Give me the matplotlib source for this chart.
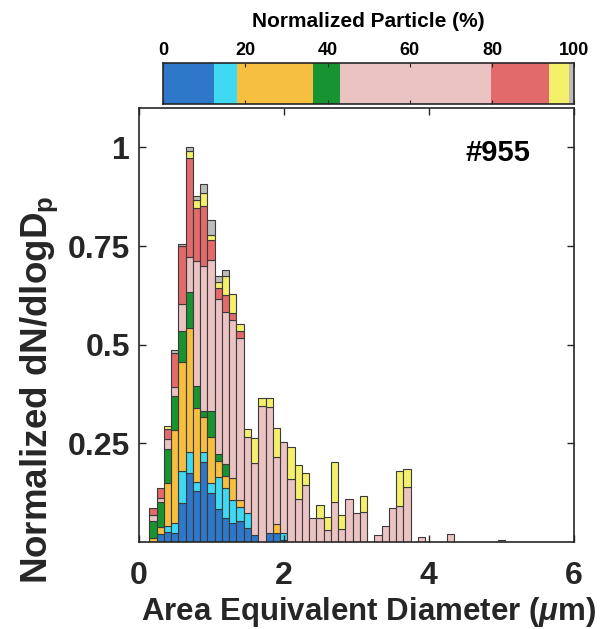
import numpy as np
import matplotlib
matplotlib.use('Agg')
import matplotlib.pyplot as plt

plt.rcParams['font.family'] = ['Liberation Sans', 'DejaVu Sans']
plt.rcParams['font.weight'] = 'bold'
plt.rcParams['axes.labelweight'] = 'bold'
plt.rcParams['mathtext.fontset'] = 'custom'
plt.rcParams['mathtext.rm'] = 'Liberation Sans:bold'
plt.rcParams['mathtext.it'] = 'Liberation Sans:italic:bold'
plt.rcParams['mathtext.bf'] = 'Liberation Sans:bold'

# bin centres (um), bins are 0.1 um wide
diameter = [0.2, 0.3, 0.4, 0.5, 0.6, 0.7, 0.8, 0.9, 1.0, 1.1, 1.2, 1.3, 1.4,
            1.5, 1.6, 1.7, 1.8, 1.9, 2.0, 2.1, 2.2, 2.3, 2.4, 2.5, 2.6, 2.7,
            2.8, 2.9, 3.0, 3.1, 3.2, 3.3, 3.4, 3.5, 3.6, 3.7, 3.9, 4.3, 5.0]

# normalized dN/dlogDp contributed by each particle class (stacked bottom->top)
blue = [0, .020, .026, .022, .098, .176, .130, .204, .125, .083, .060, .049, .052,
        .035, .018, 0, .022, .022, .005, 0, 0, 0, 0, 0, 0, 0,
        0, 0, 0, 0, 0, 0, 0, 0, 0, 0, 0, 0, 0]
cyan = [0, 0, .015, .025, .083, .053, .021, .023, .024, .083, .076, .058, .036,
        .039, 0, 0, 0, 0, .017, 0, 0, 0, 0, 0, 0, 0,
        0, 0, 0, 0, 0, 0, 0, 0, 0, 0, 0, 0, 0]
orange = [.010, .018, .108, .237, .275, .313, .188, .091, .116, .040, .032, .056, .019,
          0, 0, 0, 0, .024, 0, 0, 0, 0, 0, 0, 0, 0,
          0, 0, 0, 0, 0, 0, 0, 0, 0, 0, 0, 0, 0]
green = [.042, .064, .086, .085, .078, .091, .057, .013, .066, .017, .029, 0, 0,
         0, 0, 0, 0, 0, 0, 0, 0, 0, 0, 0, 0, 0,
         0, 0, 0, 0, 0, 0, 0, 0, 0, 0, 0, 0, 0]
pink = [.017, .010, .026, .024, .069, .090, .315, .368, .383, .393, .385, .399, .410,
        .192, .183, .345, .321, .169, .231, .159, .109, .145, .060, .060, .030, .101,
        .033, .108, .074, .075, 0, .017, .041, .087, .090, .139, .013, .020, .004]
red = [.016, .024, .025, .087, .146, .251, .136, .152, .052, .028, .045, .018, .019,
       0, 0, 0, 0, 0, 0, 0, 0, 0, 0, 0, 0, 0,
       0, 0, 0, 0, 0, 0, 0, 0, 0, 0, 0, 0, 0]
yellow = [0, 0, .007, 0, 0, .017, .021, .034, .013, .014, .046, .049, .017,
          .020, .062, .021, .022, .074, 0, .081, .085, .029, 0, .033, .033, .103,
          .035, 0, 0, .041, 0, 0, 0, 0, .091, .046, 0, 0, 0]
gray = [0, 0, 0, .007, .007, .009, .008, .023, .038, .017, .017, 0, 0,
        0, 0, 0, 0, 0, 0, 0, 0, 0, 0, 0, 0, 0,
        0, 0, 0, 0, 0, 0, 0, 0, 0, 0, 0, 0, 0]

# overall share of particles per class (%)
share = [12.4, 5.6, 18.4, 6.7, 36.7, 14.0, 5.0, 1.2]

colors = ['#2e77c9', '#40d9f4', '#f6bf40', '#179431',
          '#ebc3c3', '#e26a6b', '#f4f06c', '#bdbcba']
classes = [blue, cyan, orange, green, pink, red, yellow, gray]

fig = plt.figure(figsize=(6.03, 6.29), dpi=100)
ax = fig.add_axes([0.2297, 0.1383, 0.7222, 0.6900])

x = np.array(diameter)
bottom = np.zeros(len(x))
for vals, col in zip(classes, colors):
    vals = np.array(vals, dtype=float)
    m = vals > 0
    ax.bar(x[m], vals[m], width=0.1, bottom=bottom[m], color=col,
           edgecolor='#3a3a3a', linewidth=0.8)
    bottom += vals

ax.set_xlim(0, 6)
ax.set_ylim(0, 1.1)
ax.set_xticks([0, 2, 4, 6])
ax.set_yticks([0.25, 0.5, 0.75, 1])
ax.set_yticklabels(['0.25', '0.5', '0.75', '1'])
ax.tick_params(direction='in', top=True, right=True, labelsize=23,
               length=5, width=1, colors='#262626', labelcolor='#262626')
ax.tick_params(axis='x', pad=14)
ax.tick_params(axis='y', pad=6)
for s in ax.spines.values():
    s.set_color('#262626')
    s.set_linewidth(1.2)

ax.set_xlabel(r'Area Equivalent Diameter ($\mu$m)', fontsize=22.5, color='#262626')
ax.xaxis.set_label_coords(0.529, -0.122)
ax.set_ylabel(r'Normalized dN/dlogD$_\mathrm{p}$', fontsize=26.5, color='#262626')
ax.yaxis.set_label_coords(-0.181, 0.352)
ax.text(0.899, 0.896, '#955', transform=ax.transAxes, ha='right', va='center',
        fontsize=21, color='black')

# composition strip on top
cax = fig.add_axes([0.2708, 0.8342, 0.6816, 0.0661])
left = np.concatenate([[0], np.cumsum(share)[:-1]])
cax.barh(0, share, left=left, height=1, color=colors, linewidth=0)
cax.set_xlim(0, 100)
cax.set_ylim(-0.5, 0.5)
cax.set_yticks([])
cax.set_xticks([0, 20, 40, 60, 80, 100])
cax.xaxis.tick_top()
cax.tick_params(axis='x', direction='in', top=True, bottom=True, length=3,
                labelsize=13, pad=3, colors='#262626', labelcolor='black')
for s in cax.spines.values():
    s.set_color('#262626')
    s.set_linewidth(1.2)
fig.text(0.6116, 0.9655, 'Normalized Particle (%)', ha='center', va='center',
         fontsize=15, color='black')

fig.savefig('out.png', dpi=100)
